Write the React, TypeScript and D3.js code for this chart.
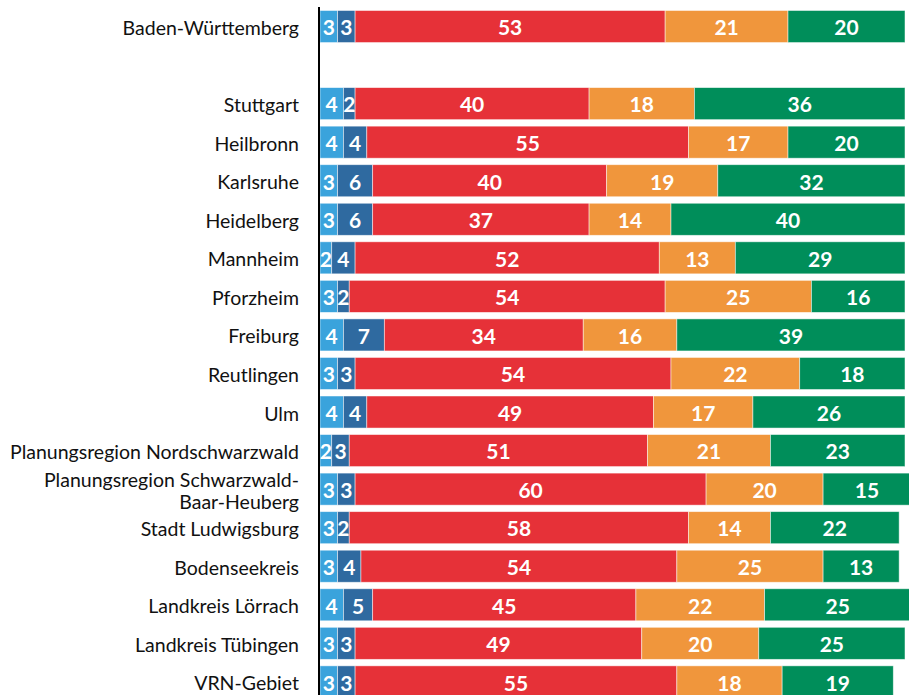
import React from "react";
import * as d3 from "d3";

const categories = [
  "Baden-Württemberg",
  "",
  "Stuttgart",
  "Heilbronn",
  "Karlsruhe",
  "Heidelberg",
  "Mannheim",
  "Pforzheim",
  "Freiburg",
  "Reutlingen",
  "Ulm",
  "Planungsregion Nordschwarzwald",
  "Planungsregion Schwarzwald-\nBaar-Heuberg",
  "Stadt Ludwigsburg",
  "Bodenseekreis",
  "Landkreis Lörrach",
  "Landkreis Tübingen",
  "VRN-Gebiet",
];

const seriesA = [3, null, 4, 4, 3, 3, 2, 3, 4, 3, 4, 2, 3, 3, 3, 4, 3, 3];
const seriesB = [3, null, 2, 4, 6, 6, 4, 2, 7, 3, 4, 3, 3, 2, 4, 5, 3, 3];
const seriesC = [53, null, 40, 55, 40, 37, 52, 54, 34, 54, 49, 51, 60, 58, 54, 45, 49, 55];
const seriesD = [21, null, 18, 17, 19, 14, 13, 25, 16, 22, 17, 21, 20, 14, 25, 22, 20, 18];
const seriesE = [20, null, 36, 20, 32, 40, 29, 16, 39, 18, 26, 23, 15, 22, 13, 25, 25, 19];

const colors = ["#3aa3dc", "#2f6aa0", "#e63138", "#f0963c", "#008e5a"];

export default function App() {
  const W = 909;
  const H = 695;
  const x = d3.scaleLinear().domain([0, 100]).range([320, 905]);
  const n = categories.length;
  const step = 38.55;
  const p = 6.5 / step;
  const y = d3
    .scaleBand<number>()
    .domain(d3.range(n))
    .range([10.5, 10.5 + n * step - 6.5])
    .paddingInner(p)
    .paddingOuter(0);

  const series = [seriesA, seriesB, seriesC, seriesD, seriesE];
  const font = "Lato, 'Open Sans', sans-serif";

  return (
    <div style={{ position: "fixed", left: 0, top: 0 }}>
      <svg width={W} height={H} style={{ display: "block", background: "#fff" }}>
        {categories.map((cat, i) => {
          if (seriesA[i] == null) return null;
          const y0 = y(i)!;
          const bh = y.bandwidth();
          let cum = 0;
          const segs = series.map((s, k) => {
            const v = s[i] as number;
            const x0 = x(cum);
            cum += v;
            const x1 = x(cum);
            return (
              <g key={k}>
                <rect
                  x={x0}
                  y={y0}
                  width={x1 - x0}
                  height={bh}
                  fill={colors[k]}
                  stroke="#ffffff"
                  strokeOpacity={0.6}
                  strokeWidth={0.8}
                />
                <text
                  x={(x0 + x1) / 2}
                  y={y0 + bh / 2}
                  dy="0.42em"
                  textAnchor="middle"
                  fill="#fff"
                  fontWeight={700}
                  fontSize={21}
                  fontFamily={font}
                >
                  {v}
                </text>
              </g>
            );
          });
          const lines = cat.split("\n");
          const cy = y0 + bh / 2 + 1.5;
          return (
            <g key={i}>
              {segs}
              <text
                x={299}
                y={cy - ((lines.length - 1) * 22) / 2}
                textAnchor="end"
                fill="#111"
                fontSize={19.5}
                fontFamily={font}
              >
                {lines.map((l, j) => (
                  <tspan key={j} x={299} dy={j === 0 ? "0.36em" : 22}>
                    {l}
                  </tspan>
                ))}
              </text>
            </g>
          );
        })}
        <line x1={319} x2={319} y1={7} y2={H} stroke="#000" strokeWidth={2} />
      </svg>
    </div>
  );
}
